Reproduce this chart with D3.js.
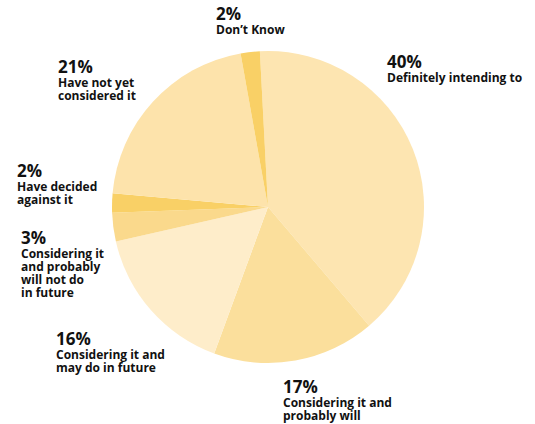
<!DOCTYPE html>
<html>
<head>
<meta charset="utf-8">
<script src="https://cdn.jsdelivr.net/npm/d3@7"></script>
<style>
  body { margin: 0; background: #fff; }
  svg { display: block; font-family: "Open Sans", "Noto Sans", sans-serif; }
  .pct { font-size: 17px; font-weight: 700; fill: #111; }
  .lbl { font-size: 12px; font-weight: 700; fill: #111; }
</style>
</head>
<body>
<svg id="chart" width="535" height="424"></svg>
<script>
const categories = [
  "Definitely intending to",
  "Considering it and probably will",
  "Considering it and may do in future",
  "Considering it and probably will not do in future",
  "Have decided against it",
  "Have not yet considered it",
  "Don\u2019t Know"
];
const values = [40, 17, 16, 3, 2, 21, 2];
const colors = ["#fde5b1", "#fbdf9c", "#feedca", "#fad98c", "#f9d066", "#fde3ab", "#f9d066"];

// label lines + where they sit
const labelLines = [
  ["Definitely intending to"],
  ["Considering it and", "probably will"],
  ["Considering it and", "may do in future"],
  ["Considering it", "and probably", "will not do", "in future"],
  ["Have decided", "against it"],
  ["Have not yet", "considered it"],
  ["Don\u2019t Know"]
];
const labelPos = [[387, 68], [283, 393], [56, 345], [21, 244], [17, 177], [58, 73], [216, 20]];

const cx = 268, cy = 207, radius = 156;
const svg = d3.select("#chart");

const start = -3 * Math.PI / 180;
const pie = d3.pie().sort(null).value(d => d).startAngle(start).endAngle(start + 2 * Math.PI);
const arc = d3.arc().innerRadius(0).outerRadius(radius);

const g = svg.append("g").attr("transform", `translate(${cx},${cy})`);
g.selectAll("path")
  .data(pie(values))
  .enter()
  .append("path")
  .attr("d", arc)
  .attr("fill", (d, i) => colors[i]);

categories.forEach((c, i) => {
  const [x, y] = labelPos[i];
  svg.append("text")
     .attr("class", "pct")
     .attr("x", x)
     .attr("y", y)
     .text(values[i] + "%");
  const t = svg.append("text")
     .attr("class", "lbl")
     .attr("x", x)
     .attr("y", y + 14);
  labelLines[i].forEach((line, j) => {
    t.append("tspan")
     .attr("x", x)
     .attr("dy", j === 0 ? 0 : 13)
     .text(line);
  });
});
</script>
</body>
</html>
